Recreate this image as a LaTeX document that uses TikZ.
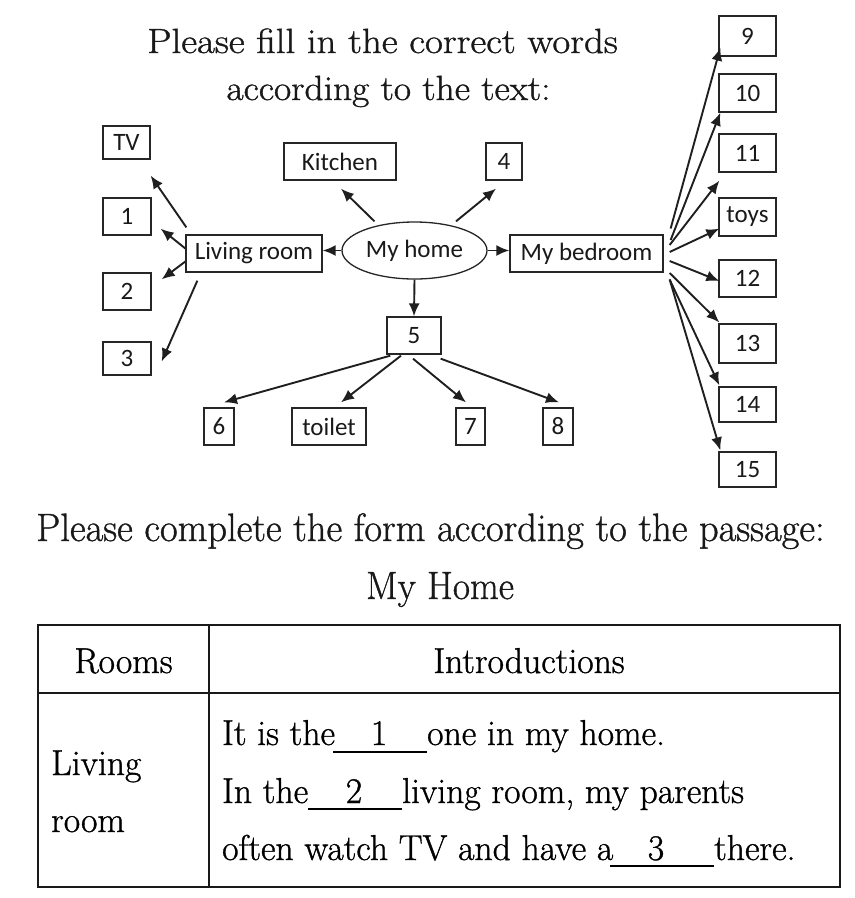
\documentclass[tikz,border=0pt]{standalone}
\usepackage{fontspec}
\setmainfont{Latin Modern Roman}[FakeBold=1.0]
\newfontfamily\diag{Carlito}
\usetikzlibrary{arrows.meta,calc,shapes.geometric}
\newcommand\tsc[1]{\scalebox{0.99}[1]{#1}}
\begin{document}
\begin{tikzpicture}[x=1pt,y=-1pt,
  box/.style={draw=black!85, line width=1.3pt, inner sep=0pt, font=\diag\fontsize{25}{30}\selectfont, text=black!90},
  arr/.style={line width=1.9pt, draw=black!88, -{Latex[length=13pt,width=11pt]}},
  ttl/.style={inner sep=0pt, font=\fontsize{35}{42}\selectfont, text=black!90},
  tabt/.style={inner sep=0pt, font=\fontsize{36}{42}\selectfont, text=black, anchor=base west},
  tab/.style={line width=2.4pt, draw=black!90}]
\useasboundingbox (0,0) rectangle (855,898);
% titles
\node[ttl, anchor=base] (t1) at (382.5,53) {\scalebox{1.11}[1]{Please fill in the correct words}};
\node[ttl, anchor=base] (t2) at (388.5,100) {\scalebox{1.07}[1]{according to the text:}};
% diagram nodes
\node[box, minimum width=47, minimum height=33] (tv) at (126.5,142.5) {TV};
\node[box, minimum width=112, minimum height=37] (kit) at (340,161.5) {Kitchen};
\node[box, minimum width=36, minimum height=37] (n4) at (504,161.5) {4};
\node[box, minimum width=48, minimum height=37] (n1) at (127,216.5) {1};
\node[box, minimum width=48, minimum height=37] (n2) at (127,291.5) {2};
\node[box, minimum width=48, minimum height=33] (n3) at (127,358.5) {3};
\node[box, minimum width=136, minimum height=37] (lr) at (254,253.5) {Living room};
\node[box, ellipse, minimum width=145, minimum height=57] (home) at (414.5,250.5) {\raisebox{4pt}{My home}};
\node[box, minimum width=153, minimum height=37] (bed) at (586.5,253.5) {My bedroom};
\node[box, minimum width=54, minimum height=37] (n5) at (414,335.5) {5};
\node[box, minimum width=30, minimum height=37] (n6) at (219,426.5) {6};
\node[box, minimum width=74, minimum height=37] (toi) at (329,426.5) {toilet};
\node[box, minimum width=29, minimum height=37] (n7) at (470.5,426.5) {7};
\node[box, minimum width=30, minimum height=37] (n8) at (558,426.5) {8};
\node[box, minimum width=57, minimum height=40] (n9) at (747.5,36) {9};
\node[box, minimum width=57, minimum height=38] (n10) at (747.5,93) {10};
\node[box, minimum width=57, minimum height=38] (n11) at (747.5,153) {11};
\node[box, minimum width=57, minimum height=38] (toys) at (747.5,217) {toys};
\node[box, minimum width=57, minimum height=37] (n12) at (747.5,278.5) {12};
\node[box, minimum width=57, minimum height=39] (n13) at (747.5,343.5) {13};
\node[box, minimum width=57, minimum height=35] (n14) at (747.5,404.5) {14};
\node[box, minimum width=57, minimum height=35] (n15) at (747.5,469.5) {15};
% connectors: living room
\draw[arr] ($(lr.north west)+(1,-7)$) -- ($(tv.south east)+(0,16)$);
\draw[arr] ($(lr.west)+(0,-5)$) -- ($(n1.south east)+(9,-7)$);
\draw[arr] ($(lr.west)+(0,8)$) -- ($(n2.north east)+(10,7)$);
\draw[arr] ($(lr.south west)+(12,8)$) -- ($(n3.east)+(10,3)$);
% connectors: home
\draw[arr] (home.west) -- (home.west -| lr.east);
\draw[arr] ($(home.north)+(-40,0)$) -- ($(kit.south)+(1,8)$);
\draw[arr] ($(home.north)+(41.5,0)$) -- ($(n4.south)+(-8,8)$);
\draw[arr] (home.east) -- (home.east -| bed.west);
\draw[arr] (home.south) -- (n5.north);
% connectors: 5
\draw[arr] ($(n5.south west)+(4,1)$) -- ($(n6.north)+(5,-5)$);
\draw[arr] ($(n5.south)+(-13,1)$) -- ($(toi.north)+(12,-5)$);
\draw[arr] ($(n5.south)+(-1,4)$) -- ($(n7.north)+(-4.5,-5)$);
\draw[arr] ($(n5.south east)+(-1,4)$) -- ($(n8.north)+(1,-5)$);
% connectors: bedroom
\draw[arr] ($(bed.east)+(7,-25)$) -- ($(n9.south west)+(2,-9)$);
\draw[arr] ($(bed.east)+(7,-13.5)$) -- ($(n10.south west)+(2,0)$);
\draw[arr] ($(bed.east)+(6,-8.5)$) -- ($(n11.south west)+(1,8)$);
\draw[arr] ($(bed.east)+(6,-1.5)$) -- ($(toys.south west)+(1,-8)$);
\draw[arr] ($(bed.east)+(6,7.5)$) -- ($(n12.west)+(1,2.5)$);
\draw[arr] ($(bed.east)+(6,19.5)$) -- ($(n13.north west)+(1,-1)$);
\draw[arr] ($(bed.east)+(6,26)$) -- ($(n14.north west)+(1,-1)$);
\draw[arr] ($(bed.east)+(6,26)$) -- ($(n15.north west)+(2,-1)$);
% second part
\node[ttl, anchor=base west] (t3) at (36,541) {\scalebox{1.10}[1.13]{Please complete the form according to the passage:}};
\node[ttl, anchor=base] (t4) at (440,599) {\scalebox{1.065}[1.13]{My Home}};
% table
\draw[tab] (38,625) rectangle (840,887);
\draw[tab] (38,693) -- (840,693);
\draw[tab] (209,625) -- (209,887);
\node[tabt, anchor=base] (h1) at (123.5,673) {\tsc{Rooms}};
\node[tabt, anchor=base] (h2) at (529,673) {\tsc{Introductions}};
\node[tabt] (c1) at (51,775) {\tsc{Living}};
\node[tabt] (c2) at (51,832) {\tsc{room}};
% line 1
\node[tabt] (l1a) at (222,745) {\tsc{It is the}};
\draw[line width=2pt] (333,752) -- (427,752);
\node[tabt, anchor=base] (b1) at (379,745) {\tsc{1}};
\node[tabt] (l1b) at (427,745) {\tsc{one in my home.}};
% line 2
\node[tabt] (l2a) at (222,803) {\tsc{In the}};
\draw[line width=2pt] (308,809) -- (402,809);
\node[tabt, anchor=base] (b2) at (354,803) {\tsc{2}};
\node[tabt] (l2b) at (402,803) {\tsc{living room, my parents}};
% line 3
\node[tabt] (l3a) at (222,860) {\tsc{often watch TV and have a}};
\draw[line width=2pt] (610,866) -- (714,866);
\node[tabt, anchor=base] (b3) at (656,860) {\tsc{3}};
\node[tabt] (l3b) at (714,860) {\tsc{there.}};
\end{tikzpicture}
\end{document}
